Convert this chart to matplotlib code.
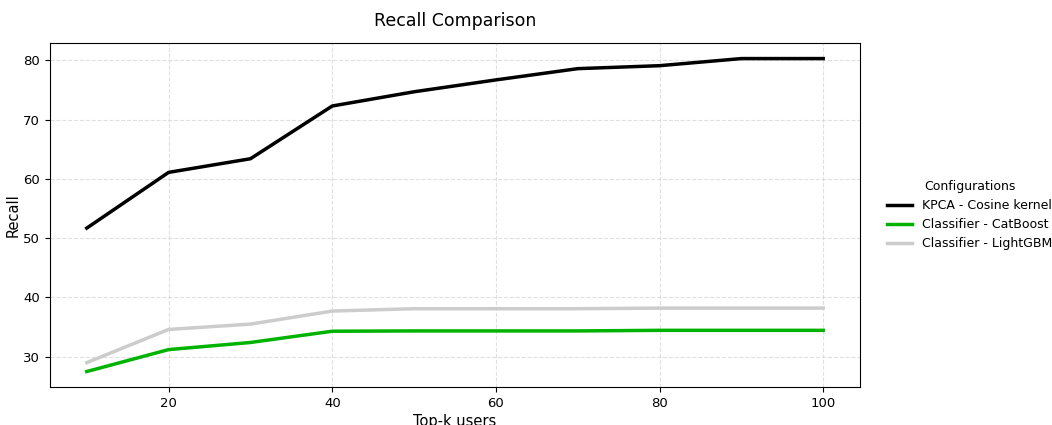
import matplotlib
matplotlib.use('Agg')
import matplotlib.pyplot as plt

top_k = [10, 20, 30, 40, 50, 60, 70, 80, 90, 100]

kpca_cosine = [51.7, 61.1, 63.4, 72.3, 74.7, 76.7, 78.6, 79.1, 80.3, 80.3]
catboost = [27.5, 31.2, 32.4, 34.3, 34.35, 34.35, 34.35, 34.45, 34.45, 34.45]
lightgbm = [29.0, 34.6, 35.5, 37.7, 38.1, 38.1, 38.1, 38.2, 38.2, 38.2]

series = [
    ('KPCA - Cosine kernel', kpca_cosine, '#000000'),
    ('Classifier - CatBoost', catboost, '#00b300'),
    ('Classifier - LightGBM', lightgbm, '#cccccc'),
]

fig, ax = plt.subplots(figsize=(10.52, 4.25), dpi=100)
fig.subplots_adjust(left=0.0475, right=0.8175, top=0.899, bottom=0.089)

for label, values, color in series:
    ax.plot(top_k, values, color=color, linewidth=2.5, label=label)

ax.grid(True, linestyle='--', color='#cccccc', alpha=0.6, linewidth=0.8)
ax.tick_params(labelsize=9.5)
ax.set_xlabel('Top-k users', fontsize=10.5, labelpad=3)
ax.set_ylabel('Recall', fontsize=10.5, labelpad=2)
ax.set_title('Recall Comparison', fontsize=12.5, pad=12)

ax.legend(title='Configurations', loc='center left', bbox_to_anchor=(1.02, 0.5),
          frameon=False, fontsize=9, title_fontsize=9)

plt.savefig('out.png')
